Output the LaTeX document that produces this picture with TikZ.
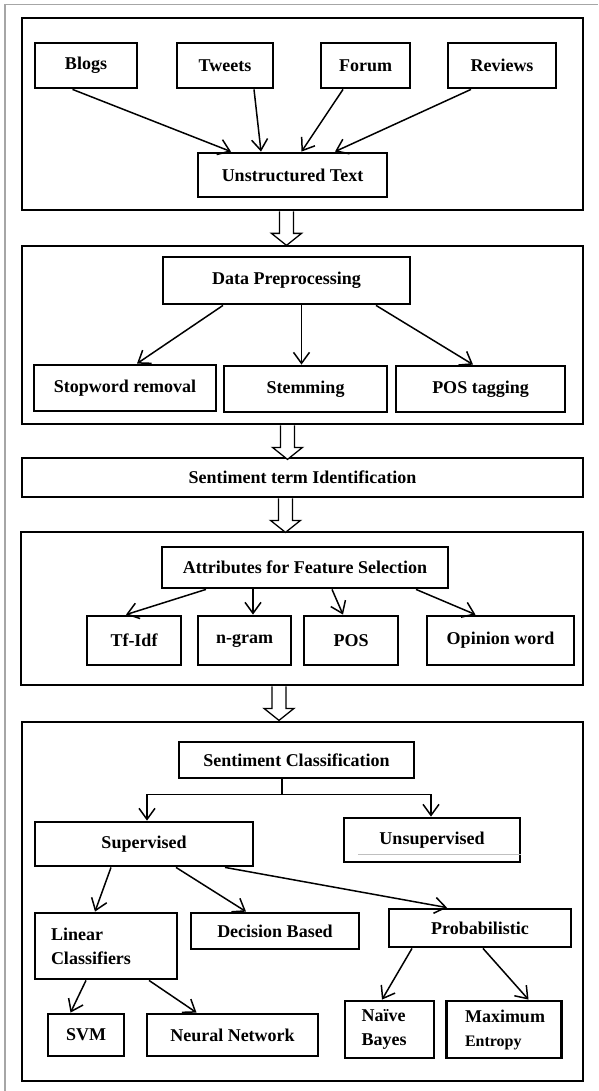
\documentclass[tikz,border=0pt]{standalone}
\usepackage{fontspec}
\setmainfont{Liberation Serif}
\usetikzlibrary{arrows.meta}

\begin{document}
\begin{tikzpicture}[x=1pt, y=-1pt,
    sect/.style={draw, line width=2.8pt, inner sep=0pt},
    box/.style={draw, line width=2.8pt, inner sep=2pt, align=center,
        font=\bfseries\fontsize{18}{24}\selectfont},
    arr/.style={-{Straight Barb[length=11pt, width=16pt]}, line width=1.5pt},
    blockarrow/.pic={
        \draw[line width=1.3pt, fill=white] (-7,0) -- (-7,22) -- (-15,22)
            -- (0,34) -- (15,22) -- (7,22) -- (7,0);}]
    \useasboundingbox (0,0) rectangle (598,1091);
    % page frame
    \draw[gray!70, line width=1.2pt] (5,1091) -- (5,4.5) -- (598,4.5);

    % Sources
    \node[sect, minimum width=561, minimum height=192] (sec1) at (302.5,114) {};
    \node[box, minimum width=102, minimum height=45] (blogs) at (86,65.5) {Blogs};
    \node[box, minimum width=96, minimum height=45] (tweets) at (225,65.5) {Tweets};
    \node[box, minimum width=89, minimum height=45] (forum) at (365.5,65.5) {Forum};
    \node[box, minimum width=108, minimum height=45] (reviews) at (502,65.5) {Reviews};
    \node[box, minimum width=189, minimum height=44] (unstr) at (292.5,175) {Unstructured Text};

    \draw[arr] ([xshift=-13.5]blogs.south) -- ([xshift=-61.5]unstr.north);
    \draw[arr] ([xshift=29]tweets.south) -- ([xshift=-31.5]unstr.north);
    \draw[arr] ([xshift=-22.5]forum.south) -- ([xshift=9]unstr.north);
    \draw[arr] ([xshift=-31]reviews.south) -- ([xshift=42.5]unstr.north);

    % Preprocessing
    \node[sect, minimum width=561, minimum height=178] (sec2) at (302.5,335) {};
    \node[box, minimum width=247, minimum height=47] (prep) at (286.5,280.5) {Data Preprocessing};
    \node[box, minimum width=182, minimum height=46] (stop) at (125,388) {Stopword removal};
    \node[box, minimum width=163, minimum height=46] (stem) at (305.5,389) {Stemming};
    \node[box, minimum width=169, minimum height=46] (postag) at (480.5,389) {POS tagging};

    \draw[arr] ([xshift=-63.5]prep.south) -- ([xshift=12]stop.north);
    \draw[arr] ([xshift=15]prep.south) -- ([xshift=-4]stem.north);
    \draw[arr] ([xshift=89.5]prep.south) -- ([xshift=-7.5]postag.north);

    % Sentiment terms
    \node[box, minimum width=561, minimum height=39] (term) at (302.5,477.5) {Sentiment term Identification};

    % Features
    \node[sect, minimum width=562, minimum height=153] (sec3) at (302,608.5) {};
    \node[box, minimum width=286, minimum height=41] (attr) at (305,567.5) {Attributes for Feature Selection};
    \node[box, minimum width=94, minimum height=49] (tfidf) at (134,640.5) {Tf-Idf};
    \node[box, minimum width=93, minimum height=49] (ngram) at (244.5,640.5) {n-gram};
    \node[box, minimum width=94, minimum height=49] (pos) at (351,640.5) {POS};
    \node[box, minimum width=147, minimum height=49] (opinion) at (500.5,640.5) {Opinion word};

    \draw[arr] ([xshift=-99]attr.south) -- ([xshift=-8]tfidf.north);
    \draw[arr] ([xshift=-52]attr.south) -- ([xshift=8.5]ngram.north);
    \draw[arr] ([xshift=27]attr.south) -- ([xshift=-8]pos.north);
    \draw[arr] ([xshift=111]attr.south) -- ([xshift=-25]opinion.north);

    % Classification
    \node[sect, minimum width=561, minimum height=359] (sec4) at (302.5,901.5) {};
    \node[box, minimum width=235, minimum height=36] (sclass) at (296.5,760) {Sentiment Classification};
    \node[box, minimum width=218, minimum height=44] (sup) at (144,844) {Supervised};
    \node[box, minimum width=176, minimum height=44] (unsup) at (432,840) {Unsupervised};
    \draw[gray!50, line width=0.8pt] ([shift={(15.5,-9)}]unsup.south west) -- ([shift={(0,-9)}]unsup.south east);

    \draw[line width=1.2pt] ([xshift=-14.5]sclass.south) -- ++(0,15) coordinate (split);
    \draw[arr] (split) -| ([xshift=3]sup.north);
    \draw[arr] (split) -| ([xshift=-1]unsup.north);

    \node[box, minimum width=142, minimum height=66, align=left, text width=110] (linear) at (106,946) {Linear\\Classifiers};
    \node[box, minimum width=168, minimum height=36] (decision) at (275,931) {Decision Based};
    \node[box, minimum width=182, minimum height=38] (prob) at (480,928) {Probabilistic};

    \draw[arr] ([xshift=-33]sup.south) -- ([xshift=-11]linear.north);
    \draw[arr] ([xshift=32]sup.south) -- ([xshift=-29]decision.north);
    \draw[arr] ([xshift=81]sup.south) -- ([xshift=-33]prob.north);

    \node[box, minimum width=76, minimum height=42] (svm) at (86,1035) {SVM};
    \node[box, minimum width=171, minimum height=42] (nn) at (232.5,1035) {Neural Network};
    \node[box, minimum width=89, minimum height=57, align=left, text width=56] (naive) at (389.5,1029.5) {Naïve\\Bayes};
    \node[box, minimum width=115, minimum height=57, align=left, text width=78] (maxent) at (504,1029.5) {Maximum\\{\fontsize{16}{24}\selectfont Entropy}};

    \draw[arr] ([xshift=-20]linear.south) -- ([xshift=-15.5]svm.north);
    \draw[arr] ([xshift=43]linear.south) -- ([xshift=-36]nn.north);
    \draw[arr] ([xshift=-68]prob.south) -- ([xshift=-7.5]naive.north);
    \draw[arr] ([xshift=3]prob.south) -- ([xshift=24.5]maxent.north);

    % Flow between stages
    \pic at ([xshift=-16]sec1.south) {blockarrow};
    \pic at ([xshift=-15]sec2.south) {blockarrow};
    \pic at ([xshift=-17]term.south) {blockarrow};
    \pic at ([xshift=-23]sec3.south) {blockarrow};
\end{tikzpicture}
\end{document}
